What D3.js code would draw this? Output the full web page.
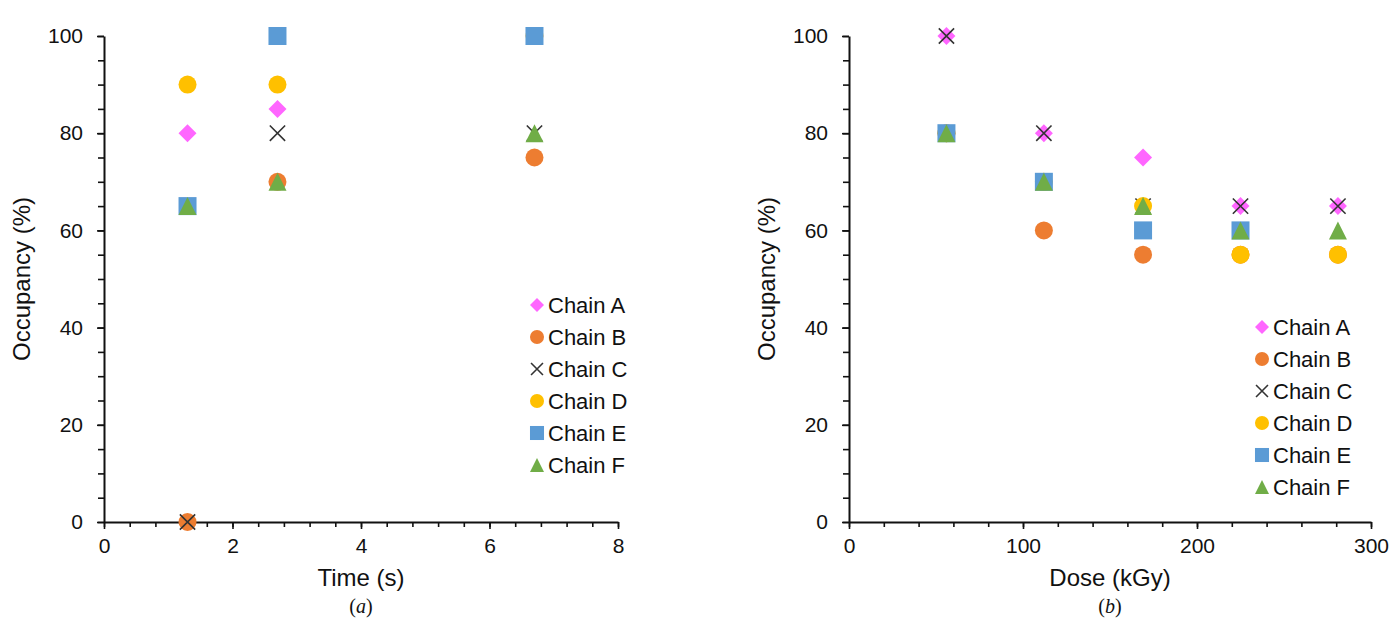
<!DOCTYPE html>
<html>
<head>
<meta charset="utf-8">
<script src="https://cdn.jsdelivr.net/npm/d3@7"></script>
<style>
body { margin: 0; background: #fff; }
text { font-family: "Liberation Sans", Arial, sans-serif; fill: #111; }
.axis path, .axis line { stroke: #111; }
.axis text { font-size: 21px; }
</style>
</head>
<body>
<div class="cont"></div>
<script>

var w = 1390,
h = 621;

// data
var chains = ["Chain A", "Chain B", "Chain C", "Chain D", "Chain E", "Chain F"];
var colors = ["#ff66ff", "#ed7d31", "#333333", "#ffc000", "#5b9bd5", "#70ad47"];
var shapes = ["diamond", "circle", "x", "circle", "square", "triangle"];

var timeX = [1.3, 2.7, 6.7];
var timeA = [80, 85, 100];
var timeB = [0, 70, 75];
var timeC = [0, 80, 80];
var timeD = [90, 90, 100];
var timeE = [65, 100, 100];
var timeF = [65, 70, 80];

var doseX = [56, 112, 169, 225, 281];
var doseA = [100, 80, 75, 65, 65];
var doseB = [80, 60, 55, 55, 55];
var doseC = [100, 80, 65, 65, 65];
var doseD = [80, 70, 65, 55, 55];
var doseE = [80, 70, 60, 60, null];
var doseF = [80, 70, 65, 60, 60];

var yTicks = [0, 20, 40, 60, 80, 100];
var timeTicks = [0, 2, 4, 6, 8];
var doseTicks = [0, 100, 200, 300];

var svg = d3.select(".cont").append("svg").
attr("width", w).
attr("height", h);

function marker(sel, shape, color, k) {
  var s = 9 * k;
  if (shape == "circle") {
    sel.append("circle").attr("r", s).attr("fill", color);
  } else if (shape == "square") {
    sel.append("rect").attr("x", -s).attr("y", -s).attr("width", 2 * s).attr("height", 2 * s).attr("fill", color);
  } else if (shape == "diamond") {
    var d = s;
    sel.append("path").attr("d", "M0," + -d + "L" + d + ",0L0," + d + "L" + -d + ",0Z").attr("fill", color);
  } else if (shape == "triangle") {
    sel.append("path").attr("d", "M0," + -s + "L" + s + "," + s + "L" + -s + "," + s + "Z").attr("fill", color);
  } else {
    var c = s * 0.85;
    sel.append("path").attr("d", "M" + -c + "," + -c + "L" + c + "," + c + "M" + c + "," + -c + "L" + -c + "," + c).
    attr("stroke", color).attr("stroke-width", 1.6).attr("fill", "none");
  }
}

function panel(opt) {
  var x = d3.scaleLinear().domain(opt.xDomain).range(opt.xRange);
  var y = d3.scaleLinear().domain([0, 100]).range([522, 36]);
  var g = svg.append("g");

  // minor ticks
  g.append("g").attr("class", "axis").
  attr("transform", "translate(0,522)").
  call(d3.axisBottom(x).tickValues(d3.range(opt.xDomain[0], opt.xDomain[1] + 1e-9, opt.minor)).tickSize(5).tickFormat("")).
  select(".domain").remove();
  g.append("g").attr("class", "axis").
  attr("transform", "translate(" + opt.xRange[0] + ",0)").
  call(d3.axisLeft(y).tickValues(d3.range(0, 101, 5)).tickSize(6).tickFormat("")).
  select(".domain").remove();

  // major ticks
  var xa = g.append("g").attr("class", "axis").
  attr("transform", "translate(0,522)").
  call(d3.axisBottom(x).tickValues(opt.ticks).tickSize(7).tickSizeOuter(0).tickPadding(9));
  var ya = g.append("g").attr("class", "axis").
  attr("transform", "translate(" + opt.xRange[0] + ",0)").
  call(d3.axisLeft(y).tickValues(yTicks).tickSize(7).tickSizeOuter(0).tickPadding(14));
  xa.select(".domain").attr("stroke-width", 2);
  ya.select(".domain").attr("stroke-width", 2);
  g.selectAll(".axis line").attr("stroke-width", 1.6);

  var cx = (opt.xRange[0] + opt.xRange[1]) / 2;
  g.append("text").attr("x", cx).attr("y", 586).attr("text-anchor", "middle").
  style("font-size", "24px").text(opt.title);
  g.append("text").attr("transform", "translate(" + opt.yTitleX + ",279) rotate(-90)").
  attr("text-anchor", "middle").style("font-size", "24px").text("Occupancy (%)");
  g.append("text").attr("x", cx).attr("y", 613).attr("text-anchor", "middle").
  style("font-family", "'Liberation Serif', serif").style("font-size", "20px").
  html("(<tspan font-style='italic'>" + opt.tag + "</tspan>)");

  // points
  opt.series.forEach(function (vals, i) {
    g.append("g").selectAll("g").
    data(vals.map(function (v, j) {return { x: opt.xs[j], y: v };}).filter(function (d) {return d.y != null;})).
    enter().append("g").
    attr("transform", function (d) {return "translate(" + x(d.x) + "," + y(d.y) + ")";}).
    each(function () {marker(d3.select(this), shapes[i], colors[i], 1);});
  });

  // legend
  var lg = g.append("g").attr("transform", "translate(" + opt.legX + "," + opt.legY + ")");
  chains.forEach(function (c, i) {
    var row = lg.append("g").attr("transform", "translate(0," + i * 32 + ")");
    marker(row, shapes[i], colors[i], 0.78);
    row.append("text").attr("x", 11).attr("y", 8).style("font-size", "22px").text(c);
  });
}

panel({
  xDomain: [0, 8], xRange: [104, 618], minor: 0.4, ticks: timeTicks,
  xs: timeX, series: [timeA, timeB, timeC, timeD, timeE, timeF],
  title: "Time (s)", tag: "a", yTitleX: 30, legX: 537, legY: 305
});

panel({
  xDomain: [0, 300], xRange: [849, 1371], minor: 20, ticks: doseTicks,
  xs: doseX, series: [doseA, doseB, doseC, doseD, doseE, doseF],
  title: "Dose (kGy)", tag: "b", yTitleX: 775, legX: 1262, legY: 327
});

</script>
</body>
</html>
